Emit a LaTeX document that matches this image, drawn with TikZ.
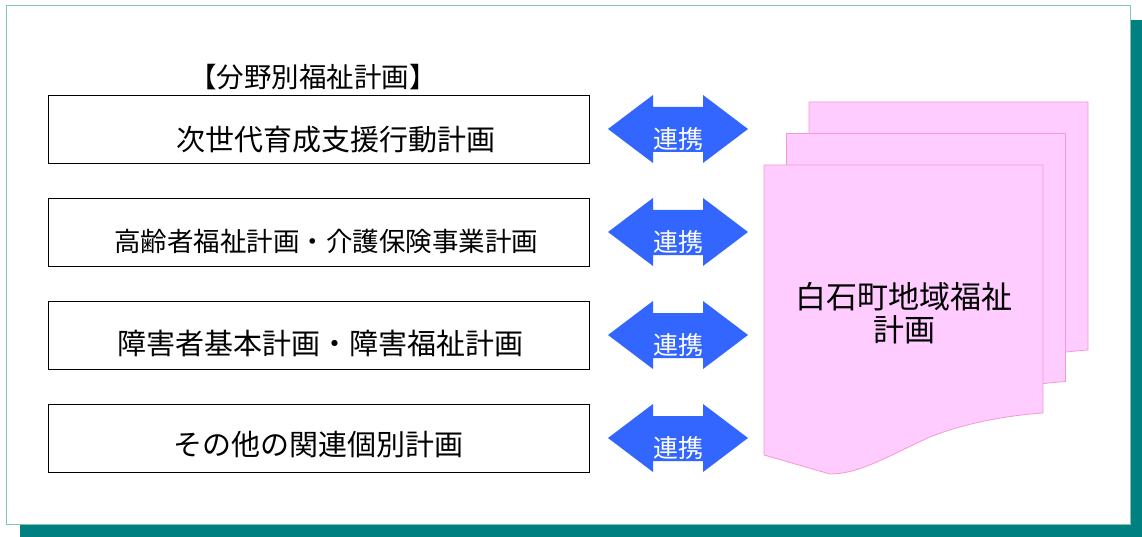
\documentclass[tikz,border=0pt]{standalone}
\usepackage{fontspec}
\setmainfont{Noto Sans CJK JP}
\begin{document}
\begin{tikzpicture}[x=1pt,y=-1pt,
  planbox/.style={draw=black, line width=0.8pt, fill=white},
  plantext/.style={font=\fontsize{29}{33}\selectfont, inner sep=0pt, anchor=center},
  arr/.style={fill=arrowblue, draw=none},
  arrtext/.style={font=\fontsize{25}{28}\selectfont, text=white, inner sep=0pt},
  page/.style={fill=pagepink, draw=pageedge, line width=0.8pt}]
\definecolor{arrowblue}{HTML}{3366FF}
\definecolor{pagepink}{HTML}{FFCCFF}
\definecolor{pageedge}{HTML}{F39AD0}
\definecolor{shadowteal}{HTML}{008080}
\definecolor{frameedge}{HTML}{80C8A8}
\useasboundingbox (0,0) rectangle (1142,537);
% frame and shadow
\fill[shadowteal] (20,20) rectangle (1142,537);
\draw[fill=white, draw=frameedge, line width=1pt] (6,6) rectangle (1130,524);
% title
\node[font=\fontsize{27.5}{30}\selectfont, inner sep=0pt] (title) at (313,77) {【分野別福祉計画】};
% boxes
\foreach \i/\y in {1/95,2/198,3/301,4/404}{
  \draw[planbox] (48,\y) rectangle (589,\y+68);
}
\node[plantext] (t1) at (336,140) {次世代育成支援行動計画};
\node[plantext, font=\fontsize{26.5}{30}\selectfont] (t2) at (326,241) {高齢者福祉計画・介護保険事業計画};
\node[plantext] (t3) at (320,343) {障害者基本計画・障害福祉計画};
\node[plantext] (t4) at (318,445) {その他の関連個別計画};
% arrows
\foreach \c/\n in {129/1,232/2,335/3,438/4}{
  \fill[arr] (608,\c) -- (653,\c-34) -- (653,\c-22) -- (703,\c-22) -- (703,\c-34)
     -- (748,\c) -- (703,\c+34) -- (703,\c+23) -- (653,\c+23) -- (653,\c+34) -- cycle;
  \node[arrtext] (a\n) at (678,\c+10) {連携};
}
% document stack
\foreach \dx/\dy in {45/-63,22.5/-31.5,0/0}{
  \begin{scope}[shift={(\dx,\dy)}]
    \draw[page] (764,455) -- (764,165) -- (1043,165) -- (1043,413)
      .. controls (1000,416) and (960,425) .. (930,437)
      .. controls (890,455) and (860,474) .. (830,474)
      -- cycle;
  \end{scope}
}
\node[font=\fontsize{31}{33}\selectfont, align=center, inner sep=0pt] (doc) at (904,313) {白石町地域福祉\\計画};
\end{tikzpicture}
\end{document}
